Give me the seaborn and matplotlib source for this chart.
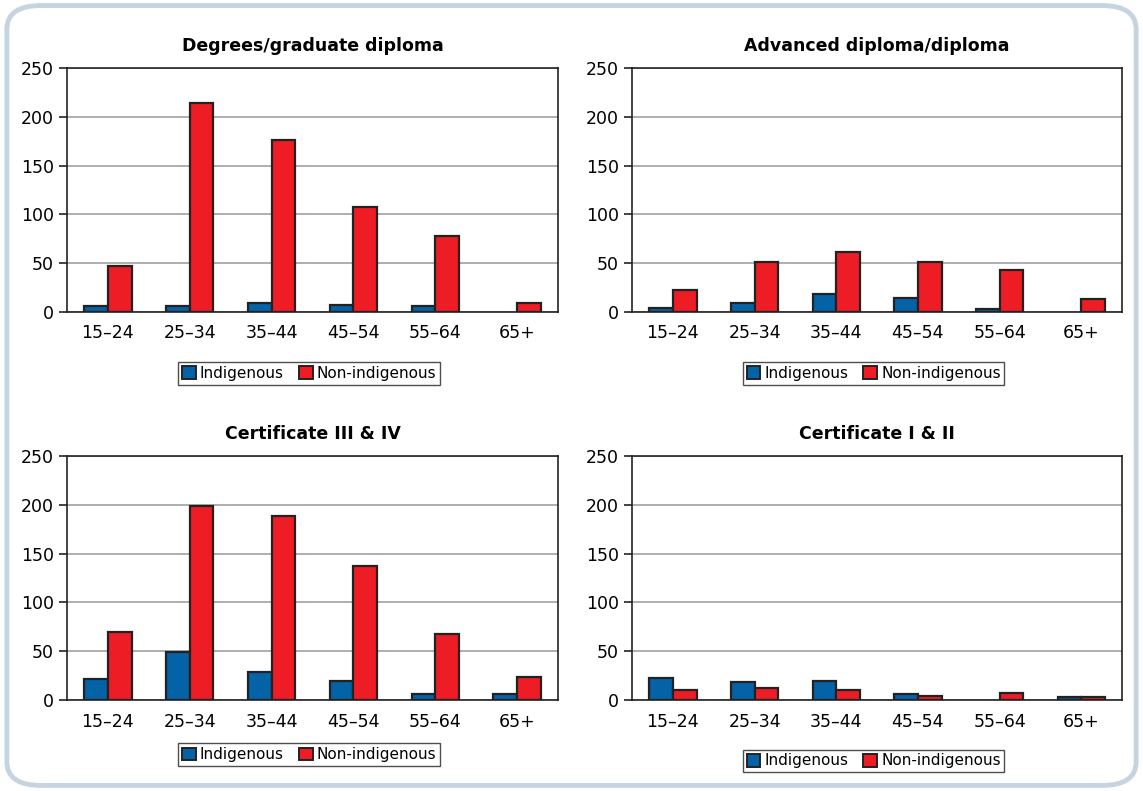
import pandas as pd
import matplotlib.pyplot as plt
import seaborn as sns
from matplotlib.patches import FancyBboxPatch, Patch
from matplotlib.ticker import MultipleLocator, FixedLocator, NullFormatter

# age groups and series values
age_groups = ["15–24", "25–34", "35–44", "45–54", "55–64", "65+"]
series_names = ["Indigenous", "Non-indigenous"]
titles = ["Degrees/graduate diploma", "Advanced diploma/diploma",
          "Certificate III & IV", "Certificate I & II"]

degree_indig = [6, 6, 9, 7, 6, 0]
degree_non = [47, 214, 176, 108, 78, 9]
adv_indig = [4, 9, 18, 14, 3, 0]
adv_non = [22, 51, 61, 51, 43, 13]
cert34_indig = [22, 49, 29, 19, 6, 6]
cert34_non = [70, 199, 189, 137, 68, 24]
cert12_indig = [23, 18, 19, 6, 0, 3]
cert12_non = [10, 12, 10, 4, 7, 3]

panels = [
    (degree_indig, degree_non),
    (adv_indig, adv_non),
    (cert34_indig, cert34_non),
    (cert12_indig, cert12_non),
]

colors = {"Indigenous": "#0462a6", "Non-indigenous": "#ee1c25"}

sns.set_style("white")
plt.rcParams['font.family'] = ['DejaVu Sans']
plt.rcParams['text.color'] = 'black'
plt.rcParams['xtick.color'] = 'black'
plt.rcParams['ytick.color'] = 'black'

fig = plt.figure(figsize=(11.43, 7.91), dpi=100)

# rounded frame round the whole figure
frame = FancyBboxPatch((0.006, 0.007), 0.988, 0.986,
                       boxstyle="round,pad=0,rounding_size=0.03",
                       transform=fig.transFigure, fill=False,
                       edgecolor="#c6d4e2", linewidth=3.5)
fig.patches.append(frame)

# axes positions [left, bottom, width, height] in figure fraction
positions = [
    [0.0586, 0.6056, 0.4296, 0.3085],
    [0.5530, 0.6056, 0.4287, 0.3085],
    [0.0586, 0.1150, 0.4296, 0.3085],
    [0.5530, 0.1150, 0.4287, 0.3085],
]
legend_y = [0.528, 0.528, 0.046, 0.038]

for i, (indig, non) in enumerate(panels):
    df = pd.DataFrame({
        "Age": age_groups * 2,
        "Group": [series_names[0]] * 6 + [series_names[1]] * 6,
        "Value": indig + non,
    })
    ax = fig.add_axes(positions[i])
    sns.barplot(data=df, x="Age", y="Value", hue="Group", palette=colors,
                width=0.58, gap=0, edgecolor="#222222", linewidth=1.6,
                ax=ax, legend=False, saturation=1)
    # hide zero-height bars (no outline drawn for them in the original)
    for p in ax.patches:
        if p.get_height() == 0:
            p.set_visible(False)
    ax.set_ylim(0, 250)
    ax.set_xlim(-0.5, 5.5)
    ax.yaxis.set_major_locator(MultipleLocator(50))
    ax.grid(axis="y", color="#999999", linewidth=1.1)
    ax.set_axisbelow(True)
    for s in ["left", "bottom", "top", "right"]:
        ax.spines[s].set_color("#222222")
        ax.spines[s].set_linewidth(1.2)
    ax.set_xlabel("")
    ax.set_ylabel("")
    ax.set_title(titles[i], fontsize=12.5, fontweight="bold", pad=12)
    # category boundary ticks on the x axis
    ax.tick_params(axis="x", which="major", length=0, labelsize=12.5, pad=9)
    ax.xaxis.set_minor_locator(FixedLocator([x - 0.5 for x in range(7)]))
    ax.xaxis.set_minor_formatter(NullFormatter())
    ax.tick_params(axis="x", which="minor", length=6, width=1.2, color="#222222")
    ax.tick_params(axis="y", length=6, width=1.2, color="#222222", labelsize=12.5,
                   left=True, labelcolor="black")

    handles = [Patch(facecolor=colors[n], edgecolor="#222222", linewidth=1.4, label=n)
               for n in series_names]
    pos = positions[i]
    fig.legend(handles=handles, loc="center",
               bbox_to_anchor=(pos[0] + pos[2] / 2 - 0.003, legend_y[i]),
               ncol=2, frameon=True, fancybox=False, edgecolor="#222222",
               fontsize=11, handlelength=0.9, handleheight=0.9, handletextpad=0.25,
               columnspacing=1.0, borderpad=0.25, borderaxespad=0)

fig.savefig("out.png", dpi=100)
